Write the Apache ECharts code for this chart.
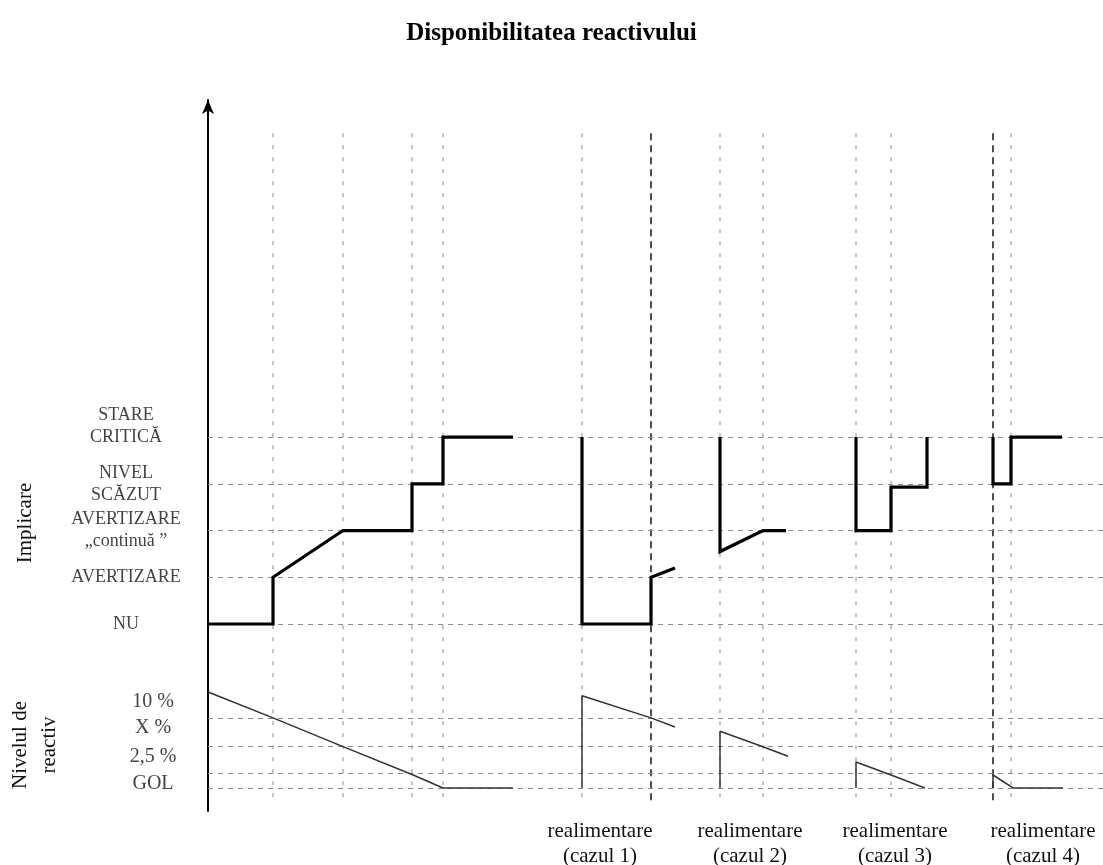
<!DOCTYPE html>
<html>
<head>
<meta charset="utf-8">
<script src="https://cdn.jsdelivr.net/npm/echarts@6/dist/echarts.min.js"></script>
<style>
html,body{margin:0;padding:0;background:#fff;}
#chart{width:1103px;height:865px;}
</style>
</head>
<body>
<div id="chart"></div>
<script>
// ---------- DATA ----------
const titleText = 'Disponibilitatea reactivului';
// Implicare levels (value 0..4)
const implicareValues = [0, 1, 2, 3, 4];
const implicareLabels = ['NU', 'AVERTIZARE', 'AVERTIZARE\n„continuă ”', 'NIVEL\nSCĂZUT', 'STARE\nCRITICĂ\n '];
// Reagent level axis (arbitrary level units, 0 = empty baseline)
const reactivLabelValues = [10, 7.3, 4.3, 1.5];
const reactivLabels = ['10 %', 'X %', '2,5 %', 'GOL'];
const reactivGridValues = [7.3, 4.3, 1.5, 0];
// Event times (x units)
const eventTimes = [6.5, 13.5, 20.4, 23.5, 37.4, 51.2, 55.5, 64.8, 68.3, 80.3];
const refillTimes = [44.3, 78.5];
// Bottom case labels
const caseLabelTimes = [39.2, 54.2, 68.7, 83.5];
const caseLabels = ['realimentare\n(cazul 1)', 'realimentare\n(cazul 2)', 'realimentare\n(cazul 3)', 'realimentare\n(cazul 4)'];

// Implicare curves
const implicareMain = [[0,0],[6.5,0],[6.5,1],[13.5,2],[20.4,2],[20.4,3],[23.5,3],[23.5,4],[30.5,4]];
const implicareCaz1 = [[37.4,4],[37.4,0],[44.3,0],[44.3,1],[46.7,1.2]];
const implicareCaz2 = [[51.2,4],[51.2,1.55],[55.5,2],[57.8,2]];
const implicareCaz3 = [[64.8,4],[64.8,2],[68.3,2],[68.3,2.93],[71.9,2.93],[71.9,4]];
const implicareCaz4 = [[78.5,4],[78.5,3],[80.3,3],[80.3,4],[85.4,4]];

// Reagent level curves
const reactivMain = [[0,10],[6.5,7.3],[13.5,4.3],[20.4,1.4],[23.5,0],[30.5,0]];
const reactivCaz1 = [[37.4,0],[37.4,9.6],[44.3,7.3],[46.7,6.35]];
const reactivCaz2 = [[51.2,0],[51.2,5.9],[55.5,4.3],[58.0,3.3]];
const reactivCaz3 = [[64.8,0],[64.8,2.7],[68.3,1.35],[71.7,0]];
const reactivCaz4 = [[78.5,0],[78.5,1.35],[80.5,0],[85.5,0]];

// vertical guide extent (in implicare units)
const guideTop = 10.5;
const guideBottom = -3.85;

// ---------- STYLE ----------
const serif = '"Liberation Serif", "DejaVu Serif", serif';
const gridDash = { color: '#8a8a8a', width: 1, type: [5, 5] };
const vDash = { color: '#8a8a8a', width: 1, type: [4, 8] };
const refillDash = { color: '#222', width: 1.6, type: [7, 5] };

const chart = echarts.init(document.getElementById('chart'), null, { renderer: 'canvas' });

const series = [];

// horizontal grid lines via markLine
series.push({
  type: 'line', xAxisIndex: 0, yAxisIndex: 0, data: [], silent: true,
  markLine: { silent: true, symbol: ['none','none'], label: { show: false },
    lineStyle: gridDash, data: implicareValues.map(v => ({ yAxis: v })) }
});
series.push({
  type: 'line', xAxisIndex: 0, yAxisIndex: 1, data: [], silent: true,
  markLine: { silent: true, symbol: ['none','none'], label: { show: false },
    lineStyle: gridDash, data: reactivGridValues.map(v => ({ yAxis: v })) }
});

// vertical dotted event lines
eventTimes.forEach(t => {
  series.push({ type: 'line', yAxisIndex: 0, silent: true, symbol: 'none',
    data: [[t, guideTop], [t, guideBottom]], lineStyle: vDash, z: 1 });
});
refillTimes.forEach(t => {
  series.push({ type: 'line', yAxisIndex: 0, silent: true, symbol: 'none',
    data: [[t, guideTop], [t, guideBottom]], lineStyle: refillDash, z: 2 });
});

// implicare curves
[implicareMain, implicareCaz1, implicareCaz2, implicareCaz3, implicareCaz4].forEach(d => {
  series.push({ type: 'line', yAxisIndex: 0, symbol: 'none', data: d, z: 5,
    lineStyle: { color: '#000', width: 3.2, join: 'miter', cap: 'butt' } });
});
// reagent curves
[reactivMain, reactivCaz1, reactivCaz2, reactivCaz3, reactivCaz4].forEach(d => {
  series.push({ type: 'line', yAxisIndex: 1, symbol: 'none', data: d, z: 5,
    lineStyle: { color: '#333', width: 1.5 } });
});

// level labels left of the vertical axis (anchored to the axis values)
series.push({
  type: 'scatter', yAxisIndex: 0, silent: true, clip: false, symbolSize: 0,
  itemStyle: { color: '#000' },
  data: implicareValues.map((v, i) => ({ value: [0, v], label: { formatter: implicareLabels[i] } })),
  label: { show: true, position: [-82, 0], align: 'center', verticalAlign: 'middle',
    fontFamily: serif, fontSize: 18, lineHeight: 22, color: '#111' },
  emphasis: { disabled: true }, z: 6
});
series.push({
  type: 'scatter', yAxisIndex: 1, silent: true, clip: false, symbolSize: 0,
  itemStyle: { color: '#000' },
  data: reactivLabelValues.map((v, i) => ({ value: [0, v], label: { formatter: '\n' + reactivLabels[i] } })),
  label: { show: true, position: [-55, 0], align: 'center', verticalAlign: 'middle',
    fontFamily: serif, fontSize: 20, lineHeight: 20, color: '#111' },
  emphasis: { disabled: true }, z: 6
});

const option = {
  animation: false,
  backgroundColor: '#fff',
  title: {
    text: titleText, left: 'center', top: 16,
    textStyle: { fontFamily: serif, fontWeight: 'bold', fontSize: 25, color: '#000' }
  },
  grid: { left: 208, right: 0, top: 100, bottom: 54, containLabel: false, outerBoundsMode: 'none' },
  xAxis: {
    type: 'value', min: 0, max: 89.5,
    axisLine: { show: false }, axisTick: { show: false }, splitLine: { show: false },
    axisLabel: {
      show: true, customValues: caseLabelTimes, showMinLabel: true, showMaxLabel: true, hideOverlap: false,
      formatter: v => caseLabels[caseLabelTimes.indexOf(v)] || '',
      fontFamily: serif, fontSize: 21, lineHeight: 25, color: '#111', margin: 8
    }
  },
  yAxis: [
    {
      type: 'value', min: -4, max: 11.21, position: 'left',
      axisLine: { show: true, lineStyle: { color: '#000', width: 2 },
        symbol: ['none', 'arrow'], symbolSize: [9, 14] },
      axisTick: { show: false }, splitLine: { show: false }, axisLabel: { show: false }
    },
    {
      type: 'value', min: -2.4, max: 71.66, position: 'left',
      axisLine: { show: false }, axisTick: { show: false }, splitLine: { show: false }, axisLabel: { show: false }
    }
  ],
  graphic: [
    { type: 'text', x: 25, y: 523, rotation: Math.PI / 2,
      style: { text: 'Implicare', font: '21px ' + serif, fill: '#111',
        align: 'center', verticalAlign: 'middle', textAlign: 'center', textVerticalAlign: 'middle' } },
    { type: 'text', x: 35, y: 745, rotation: Math.PI / 2,
      style: { text: 'Nivelul de\nreactiv', font: '21px ' + serif, fill: '#111', lineHeight: 29,
        align: 'center', verticalAlign: 'middle', textAlign: 'center', textVerticalAlign: 'middle' } }
  ],
  series: series
};
chart.setOption(option);
</script>
</body>
</html>
